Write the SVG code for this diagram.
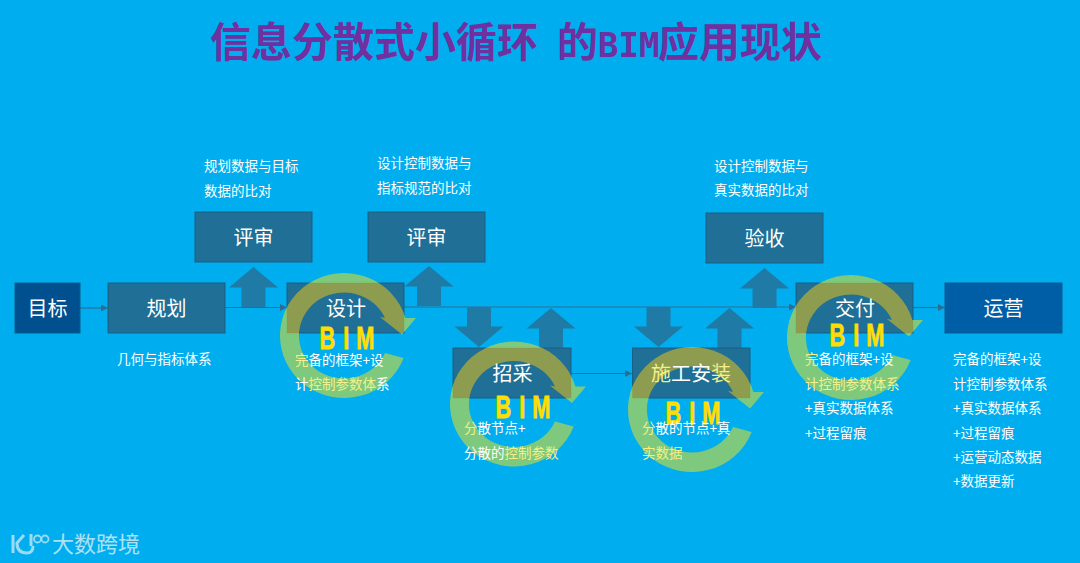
<svg xmlns="http://www.w3.org/2000/svg" width="1080" height="563" viewBox="0 0 1080 563">
<style>
text{font-family:"Noto Sans CJK SC","Liberation Sans",sans-serif}
.box{fill:#1f6f96;stroke:#1a5f85;stroke-width:1}
.navy{fill:#00508f;stroke:#0b5a8c;stroke-width:1}
.blue{fill:#005ea6;stroke:#0b5a8c;stroke-width:1}
.lbl{fill:#fff;font-size:20px;text-anchor:middle}
.cap{fill:#fff;font-size:13.5px}
.y{fill:#f3f08a}
.ring{fill:#9ed060;fill-opacity:.8}
.over{fill:#aa3c00;fill-opacity:.25}
.bim{fill:#ffdd00;stroke:#ffdd00;stroke-width:.8;font-family:"Liberation Sans",sans-serif;font-weight:700;font-size:32px}
.conn{stroke:#2a6e95;stroke-width:1.2;fill:none}
.blk{fill:#1f7aa6}
</style>
<defs>
<marker id="ah" markerWidth="8" markerHeight="7" refX="7" refY="3.5" orient="auto" markerUnits="userSpaceOnUse"><path d="M0 0L7 3.500L0 7Z" fill="#2a6e95"/></marker>
<path id="circ" d="M60.700 22.500A64 62.500 0 1 1 62.400 -17.500L73 -17.500L59 -1L37 -18.500L42 -17.500A45 43 0 1 0 42 17.500Z"/>
<path id="up" d="M24.500 0L49 20.500H36.500V40H12.500V20.500H0Z"/>
<clipPath id="c1"><rect x="287" y="283" width="117" height="50"/></clipPath>
<clipPath id="c2"><rect x="453" y="348" width="118" height="50"/></clipPath>
<clipPath id="c3"><rect x="632.500" y="348" width="117.500" height="50"/></clipPath>
<clipPath id="c4"><rect x="796" y="283" width="117" height="50"/></clipPath>
</defs>
<rect width="1080" height="563" fill="#00aeef"/>
<text id="title" x="210" y="57" font-size="41" font-weight="700" fill="#7030a0">信息分散式小循环<tspan x="557">的</tspan><tspan x="598" font-family="'DejaVu Sans Mono',monospace" font-size="34">BIM</tspan><tspan x="658">应用现状</tspan></text>
<g id="connectors">
<path class="conn" d="M80 308H108" marker-end="url(#ah)"/>
<path class="conn" d="M225 307.500H287" marker-end="url(#ah)"/>
<path class="conn" d="M404 307H796" marker-end="url(#ah)"/>
<path class="conn" d="M913 307.500H945" marker-end="url(#ah)"/>
<path class="conn" d="M571 373.500H632" marker-end="url(#ah)"/>
<use href="#up" class="blk" x="229" y="267"/>
<use href="#up" class="blk" x="404.500" y="266"/>
<use href="#up" class="blk" transform="translate(503.500 347) rotate(180)"/>
<use href="#up" class="blk" x="526.500" y="308"/>
<use href="#up" class="blk" transform="translate(683 347) rotate(180)"/>
<use href="#up" class="blk" x="705" y="308"/>
<use href="#up" class="blk" x="740" y="268"/>
</g>
<g id="mubiao"><rect class="navy" x="15" y="283" width="65" height="50"/><text class="lbl" x="47.500" y="315.500">目标</text></g>
<g id="guihua"><rect class="box" x="108" y="283" width="117" height="50"/><text class="lbl" x="166.500" y="315.500">规划</text><text class="cap" x="117" y="364">几何与指标体系</text></g>
<g id="pingshen1"><rect class="box" x="195" y="212" width="117" height="50"/><text class="lbl" x="253.500" y="245">评审</text><text class="cap" x="204" y="171">规划数据与目标</text><text class="cap" x="204" y="196">数据的比对</text></g>
<g id="pingshen2"><rect class="box" x="368" y="212" width="117" height="50"/><text class="lbl" x="426.500" y="245">评审</text><text class="cap" x="377" y="168">设计控制数据与</text><text class="cap" x="377" y="193">指标规范的比对</text></g>
<g id="yanshou"><rect class="box" x="706" y="213" width="117" height="50"/><text class="lbl" x="764.500" y="246">验收</text><text class="cap" x="714" y="171">设计控制数据与</text><text class="cap" x="714" y="195">真实数据的比对</text></g>
<g id="sheji"><rect class="box" x="287" y="283" width="117" height="50"/>
<use href="#circ" class="ring" x="343" y="335.500"/><g clip-path="url(#c1)"><use href="#circ" class="over" x="343" y="335.500"/></g>
<text class="lbl" x="346" y="315.500">设计</text>
<text class="bim" transform="translate(319.500 349) scale(.68 1)" x="0 35 54">BIM</text>
<text class="cap" x="295" y="365"><tspan class="y">完</tspan>备的框架+设</text>
<text class="cap" x="295" y="389">计<tspan class="y">控制参数体</tspan>系</text></g>
<g id="caigou"><rect class="box" x="453" y="348" width="118" height="50"/>
<use href="#circ" class="ring" x="513" y="404"/><g clip-path="url(#c2)"><use href="#circ" class="over" x="513" y="404"/></g>
<text class="lbl" x="512.500" y="380.500">招采</text>
<text class="bim" transform="translate(495.500 418) scale(.68 1)" x="0 35 54">BIM</text>
<text class="cap" x="464" y="433"><tspan class="y">分</tspan>散节点+</text>
<text class="cap" x="464" y="458">分散的<tspan class="y">控制参数</tspan></text></g>
<g id="shigong"><rect class="box" x="632.500" y="348" width="117.500" height="50"/>
<use href="#circ" class="ring" x="691" y="409.500"/><g clip-path="url(#c3)"><use href="#circ" class="over" x="691" y="409.500"/></g>
<text class="lbl" x="691" y="380.500"><tspan class="y">施</tspan>工安<tspan class="y">装</tspan></text>
<text class="bim" transform="translate(665.500 424) scale(.68 1)" x="0 35 54">BIM</text>
<text class="cap" x="642" y="433"><tspan class="y">分</tspan>散的节点+真</text>
<text class="cap" x="642" y="458"><tspan class="y">实数据</tspan></text></g>
<g id="jiaofu"><rect class="box" x="796" y="283" width="117" height="50"/>
<use href="#circ" class="ring" x="850" y="337.500"/><g clip-path="url(#c4)"><use href="#circ" class="over" x="850" y="337.500"/></g>
<text class="lbl" x="855" y="315.500">交付</text>
<text class="bim" transform="translate(829.500 346) scale(.68 1)" x="0 35 54">BIM</text>
<text class="cap" x="805" y="364"><tspan class="y">完</tspan>备的框架+设</text>
<text class="cap" x="805" y="389"><tspan class="y">计控制参数体系</tspan></text>
<text class="cap" x="805" y="413">+真实数据体系</text>
<text class="cap" x="805" y="438">+过程留痕</text></g>
<g id="yunying"><rect class="blue" x="945" y="283" width="117" height="50"/><text class="lbl" x="1003.500" y="315.500">运营</text>
<text class="cap" x="953" y="364">完备的框架+设</text>
<text class="cap" x="953" y="389">计控制参数体系</text>
<text class="cap" x="953" y="413">+真实数据体系</text>
<text class="cap" x="953" y="438">+过程留痕</text>
<text class="cap" x="953" y="462">+运营动态数据</text>
<text class="cap" x="953" y="486">+数据更新</text></g>
<g id="watermark" opacity=".75">
<path d="M13 535V553M24 535L17 543Q17 553 27 553Q33 553 33 546M31 534V546" fill="none" stroke="#cfeaf5" stroke-width="3"/>
<circle cx="37.500" cy="539" r="3.500" fill="none" stroke="#cfeaf5" stroke-width="1.800"/><circle cx="45" cy="539" r="3.500" fill="none" stroke="#cfeaf5" stroke-width="1.800"/>
<text x="52" y="552" font-size="22" fill="#e3f3f9">大数跨境</text></g>
</svg>
